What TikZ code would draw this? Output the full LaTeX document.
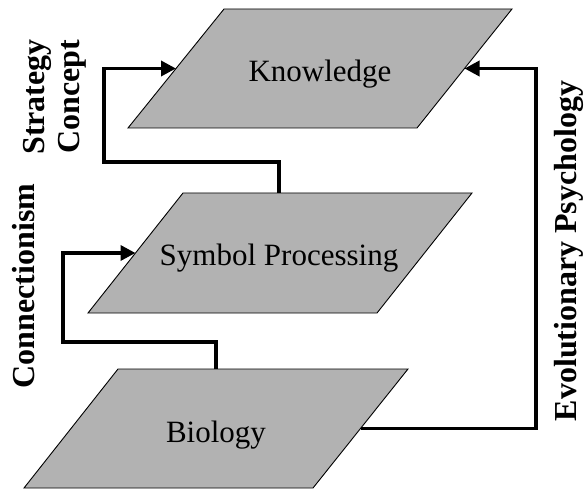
\documentclass[tikz,border=0pt]{standalone}
\usepackage{fontspec}
\setmainfont{Liberation Serif}
\usetikzlibrary{arrows.meta,calc}
\begin{document}
\begin{tikzpicture}[x=1pt,y=-1pt,
  blk/.style={fill=black!30, draw=black, line width=0.9pt},
  lbl/.style={font=\fontsize{31}{36}\selectfont, inner sep=0pt, anchor=base},
  side/.style={font=\fontsize{32}{35}\selectfont\bfseries, rotate=90, inner sep=0pt, align=center},
  conn/.style={line width=3.5pt, -{Triangle[length=15pt,width=15pt]}}]
\useasboundingbox (0,0) rectangle (584,489);
% Knowledge
\coordinate (Ktl) at (224,9);  \coordinate (Ktr) at (512,9);
\coordinate (Kbr) at (417,128); \coordinate (Kbl) at (128,128);
\draw[blk] (Ktl) -- (Ktr) -- (Kbr) -- (Kbl) -- cycle;
\node[lbl] (K) at (320,82) {Knowledge};
% Symbol Processing
\coordinate (Stl) at (183,193); \coordinate (Str) at (472,193);
\coordinate (Sbr) at (377,313); \coordinate (Sbl) at (88,313);
\draw[blk] (Stl) -- (Str) -- (Sbr) -- (Sbl) -- cycle;
\node[lbl] (S) at (279,266) {Symbol Processing};
% Biology
\coordinate (Btl) at (118,369); \coordinate (Btr) at (408,369);
\coordinate (Bbr) at (313,488); \coordinate (Bbl) at (24,488);
\draw[blk] (Btl) -- (Btr) -- (Bbr) -- (Bbl) -- cycle;
\node[lbl] (B) at (216,442) {Biology};
% connector end points
\coordinate (Kl) at ($(Ktl)!0.5!(Kbl)$);
\coordinate (Kr) at ($(Ktr)!0.5!(Kbr)$);
\coordinate (Sl) at ($(Stl)!0.5!(Sbl)$);
\coordinate (St) at ($(Stl)!0.333!(Str)$);
\coordinate (Bt) at ($(Btl)!0.338!(Btr)$);
\coordinate (Br) at ($(Btr)!0.5!(Bbr)$);
% connectors
\draw[conn] (St) -- (St |- 0,162) -- (104,162) |- (Kl);
\draw[conn] (Bt) -- (Bt |- 0,342) -- (63,342) |- (Sl);
\draw[conn] (Br) -- (536,0 |- Br) |- (Kr);
% side labels
\node[side] (sc) at (55,97) {Strategy\\Concept};
\node[side] (cn) at (24,286) {Connectionism};
\node[side] (ep) at (569,251) {Evolutionary Psychology};
\end{tikzpicture}
\end{document}
